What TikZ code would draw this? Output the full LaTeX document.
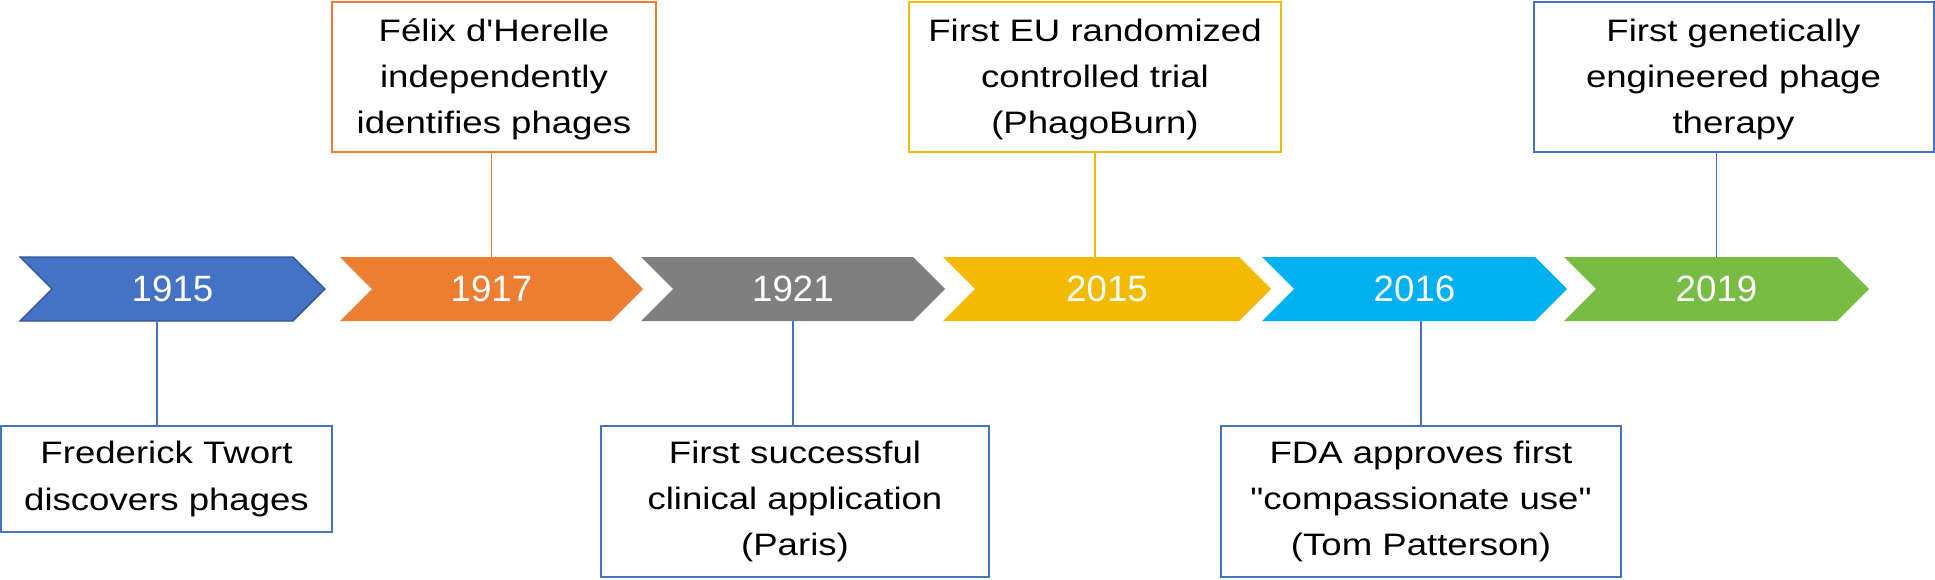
\documentclass[tikz,border=0pt]{standalone}
\usepackage{fontspec}
\newfontfamily\labelfont{Liberation Sans}
\newfontfamily\boxfont{Liberation Sans}[FakeStretch=1.18]
\usetikzlibrary{shapes.symbols}
\definecolor{blueA}{HTML}{4472C4}
\definecolor{blueEdge}{HTML}{2F528F}
\definecolor{orangeA}{HTML}{ED7D31}
\definecolor{grayA}{HTML}{7F7F7F}
\definecolor{goldA}{HTML}{F2BA00}
\definecolor{cyanA}{HTML}{00B0F0}
\definecolor{greenA}{HTML}{77BC43}
% text of the boxes above the years sits a little low
\newcommand{\toptext}[1]{\raisebox{-1pt}[\height][\depth]{\begin{tabular}{@{}c@{}}#1\end{tabular}}}

\begin{document}
\begin{tikzpicture}[x=0.75pt,y=0.75pt,yscale=-1,xscale=1,
    yr/.style={signal, signal to=east, signal from=west, signal pointer angle=90,
        minimum width=228.75pt, minimum height=48pt, inner sep=0pt, text=white,
        font=\labelfont\fontsize{27.5}{33}\selectfont},
    ev/.style={draw, line width=1.5pt, fill=white, inner sep=0pt, align=center,
        minimum height=112.5pt, font=\boxfont\fontsize{23.25}{34.7}\selectfont},
    ln/.style={line width=1.1pt}]
        \useasboundingbox (0,0) rectangle (1935,579);

        % years
        \node [yr, fill=blueA, draw=blueEdge, line width=1pt] (c1915) at (172.5,289) {1915};
        \node [yr, fill=orangeA, minimum width=227.25pt] (c1917) at (491.5,289) {1917};
        \node [yr, fill=grayA, minimum width=228pt] (c1921) at (793,289) {1921};
        \node [yr, fill=goldA, minimum width=246pt] (c2015) at (1107,289) {2015};
        \node [yr, fill=cyanA] (c2016) at (1414.5,289) {2016};
        \node [yr, fill=greenA] (c2019) at (1716.5,289) {2019};

        % events above
        \node [ev, draw=orangeA, minimum width=243pt] (felix) at (494,77) {\toptext{Félix d'Herelle\\independently\\identifies phages}};
        \node [ev, draw=goldA, minimum width=279pt] (eu) at (1095,77) {\toptext{First EU randomized\\controlled trial\\(PhagoBurn)}};
        \node [ev, draw=blueA, minimum width=300pt] (genet) at (1733.5,77) {\toptext{First genetically\\engineered phage\\therapy}};

        % events below
        \node [ev, draw=blueA, minimum width=248.25pt, minimum height=79.5pt] (twort) at (166.5,479) {Frederick Twort\\discovers phages};
        \node [ev, draw=blueA, minimum width=291pt, minimum height=113.25pt] (paris) at (795,501.5) {First successful\\clinical application\\(Paris)};
        \node [ev, draw=blueA, minimum width=300pt, minimum height=113.25pt] (fda) at (1421,501.5) {FDA approves first\\"compassionate use"\\(Tom Patterson)};

        \draw [ln, blueA] ([xshift=-11.6pt]c1915.south) -- ([xshift=-11.6pt]c1915.south |- twort.north);
        \draw [ln, orangeA] (c1917.north) -- (c1917.north |- felix.south);
        \draw [ln, blueA] (c1921.south) -- (c1921.south |- paris.north);
        \draw [ln, goldA] (eu.south) -- (eu.south |- c2015.north);
        \draw [ln, blueA] (fda.north) -- (fda.north |- c2016.south);
        \draw [ln, blueA] (c2019.north) -- (c2019.north |- genet.south);
\end{tikzpicture}
\end{document}
